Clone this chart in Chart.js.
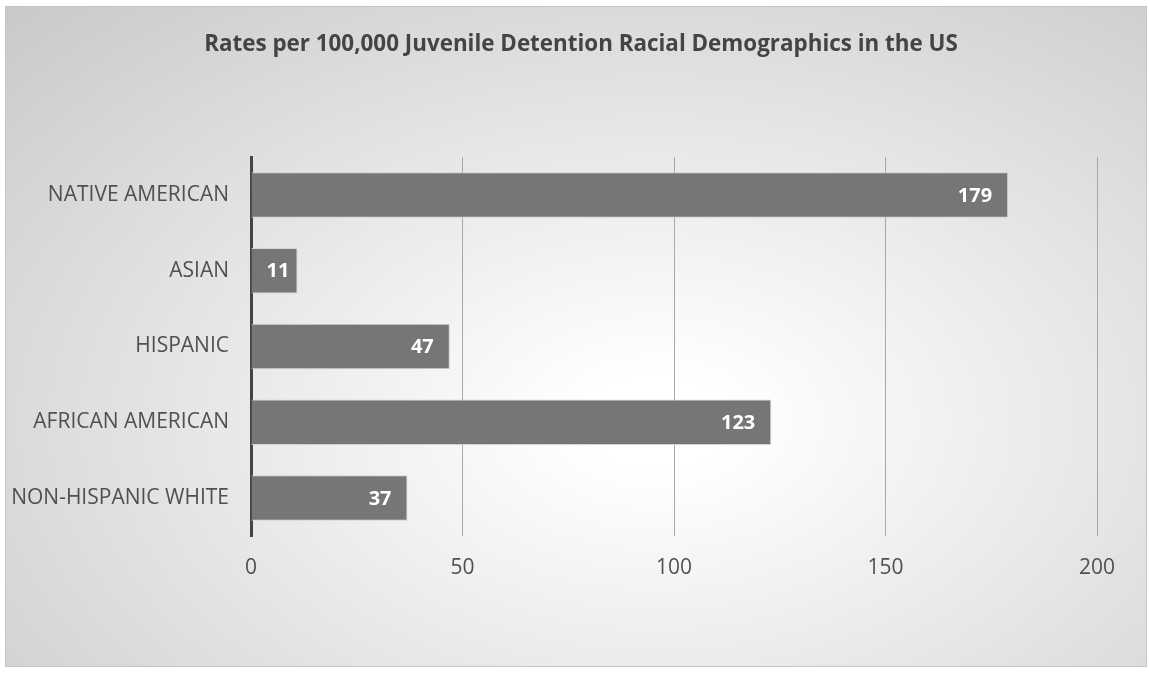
<!DOCTYPE html>
<html>
<head>
<meta charset="utf-8">
<script src="https://cdn.jsdelivr.net/npm/chart.js@4/dist/chart.umd.min.js"></script>
<style>
  html, body { margin: 0; padding: 0; background: #fff; }
  #frame {
    position: absolute; left: 5px; top: 6px; width: 1140px; height: 659px;
    border: 1px solid #c4c4c4;
    background: radial-gradient(ellipse farthest-corner at 57% 63%, #ffffff 0%, #ffffff 8%, #c9c9c9 100%);
  }
  #wrap { position: absolute; left: 0; top: 0; width: 1150px; height: 673px; }
</style>
</head>
<body>
<div id="frame"></div>
<div id="wrap"><canvas id="chart" width="1150" height="673"></canvas></div>
<script>
const categories = ['NATIVE AMERICAN', 'ASIAN', 'HISPANIC', 'AFRICAN AMERICAN', 'NON-HISPANIC WHITE'];
const rates = [179, 11, 47, 123, 37];
const xTicks = [0, 50, 100, 150, 200];
const chartTitle = 'Rates per 100,000 Juvenile Detention Racial Demographics in the US';

const FONT = '"Open Sans", "Noto Sans", sans-serif';

// title is drawn by hand so it can sit over the middle of the frame
const titleText = {
  id: 'titleText',
  afterDraw(chart) {
    const ctx = chart.ctx;
    ctx.save();
    ctx.fillStyle = '#444444';
    ctx.font = 'bold 22.4px ' + FONT;
    ctx.textAlign = 'center';
    ctx.textBaseline = 'middle';
    ctx.fillText(chartTitle, 581, 45);
    ctx.restore();
  }
};

// white value labels drawn inside the end of each bar
const barLabels = {
  id: 'barLabels',
  afterDatasetsDraw(chart) {
    const ctx = chart.ctx;
    const meta = chart.getDatasetMeta(0);
    ctx.save();
    ctx.fillStyle = '#ffffff';
    ctx.font = 'bold 20px ' + FONT;
    ctx.textAlign = 'right';
    ctx.textBaseline = 'middle';
    meta.data.forEach((bar, i) => {
      const txt = String(rates[i]);
      const w = ctx.measureText(txt).width;
      // short bars: keep the label off the axis line
      const x = Math.max(bar.x - 16, bar.base + 15 + w);
      ctx.fillText(txt, x, bar.y + 1);
    });
    ctx.restore();
  }
};

new Chart(document.getElementById('chart'), {
  type: 'bar',
  data: {
    labels: categories,
    datasets: [{
      data: rates,
      backgroundColor: '#767676',
      borderColor: '#d2d2d2',
      borderWidth: 1,
      barPercentage: 0.6,
      categoryPercentage: 1
    }]
  },
  options: {
    indexAxis: 'y',
    responsive: false,
    animation: false,
    layout: { padding: { left: 0, right: 53, top: 157, bottom: 0 } },
    plugins: {
      legend: { display: false },
      tooltip: { enabled: false },
      title: { display: false }
    },
    scales: {
      x: {
        min: 0,
        max: 200,
        afterBuildTicks: s => { s.ticks = xTicks.map(v => ({ value: v })); },
        afterFit: s => { s.height = 137; },
        grid: { color: '#a8a8a8', lineWidth: 1, drawTicks: false },
        border: { display: false },
        ticks: { color: '#505050', padding: 19, font: { family: FONT, size: 21 } }
      },
      y: {
        afterFit: s => { s.width = 251; },
        grid: { display: false, drawTicks: false },
        border: { display: true, color: '#444444', width: 3 },
        ticks: { color: '#505050', padding: 22, font: { family: FONT, size: 21 } }
      }
    }
  },
  plugins: [barLabels, titleText]
});
</script>
</body>
</html>
